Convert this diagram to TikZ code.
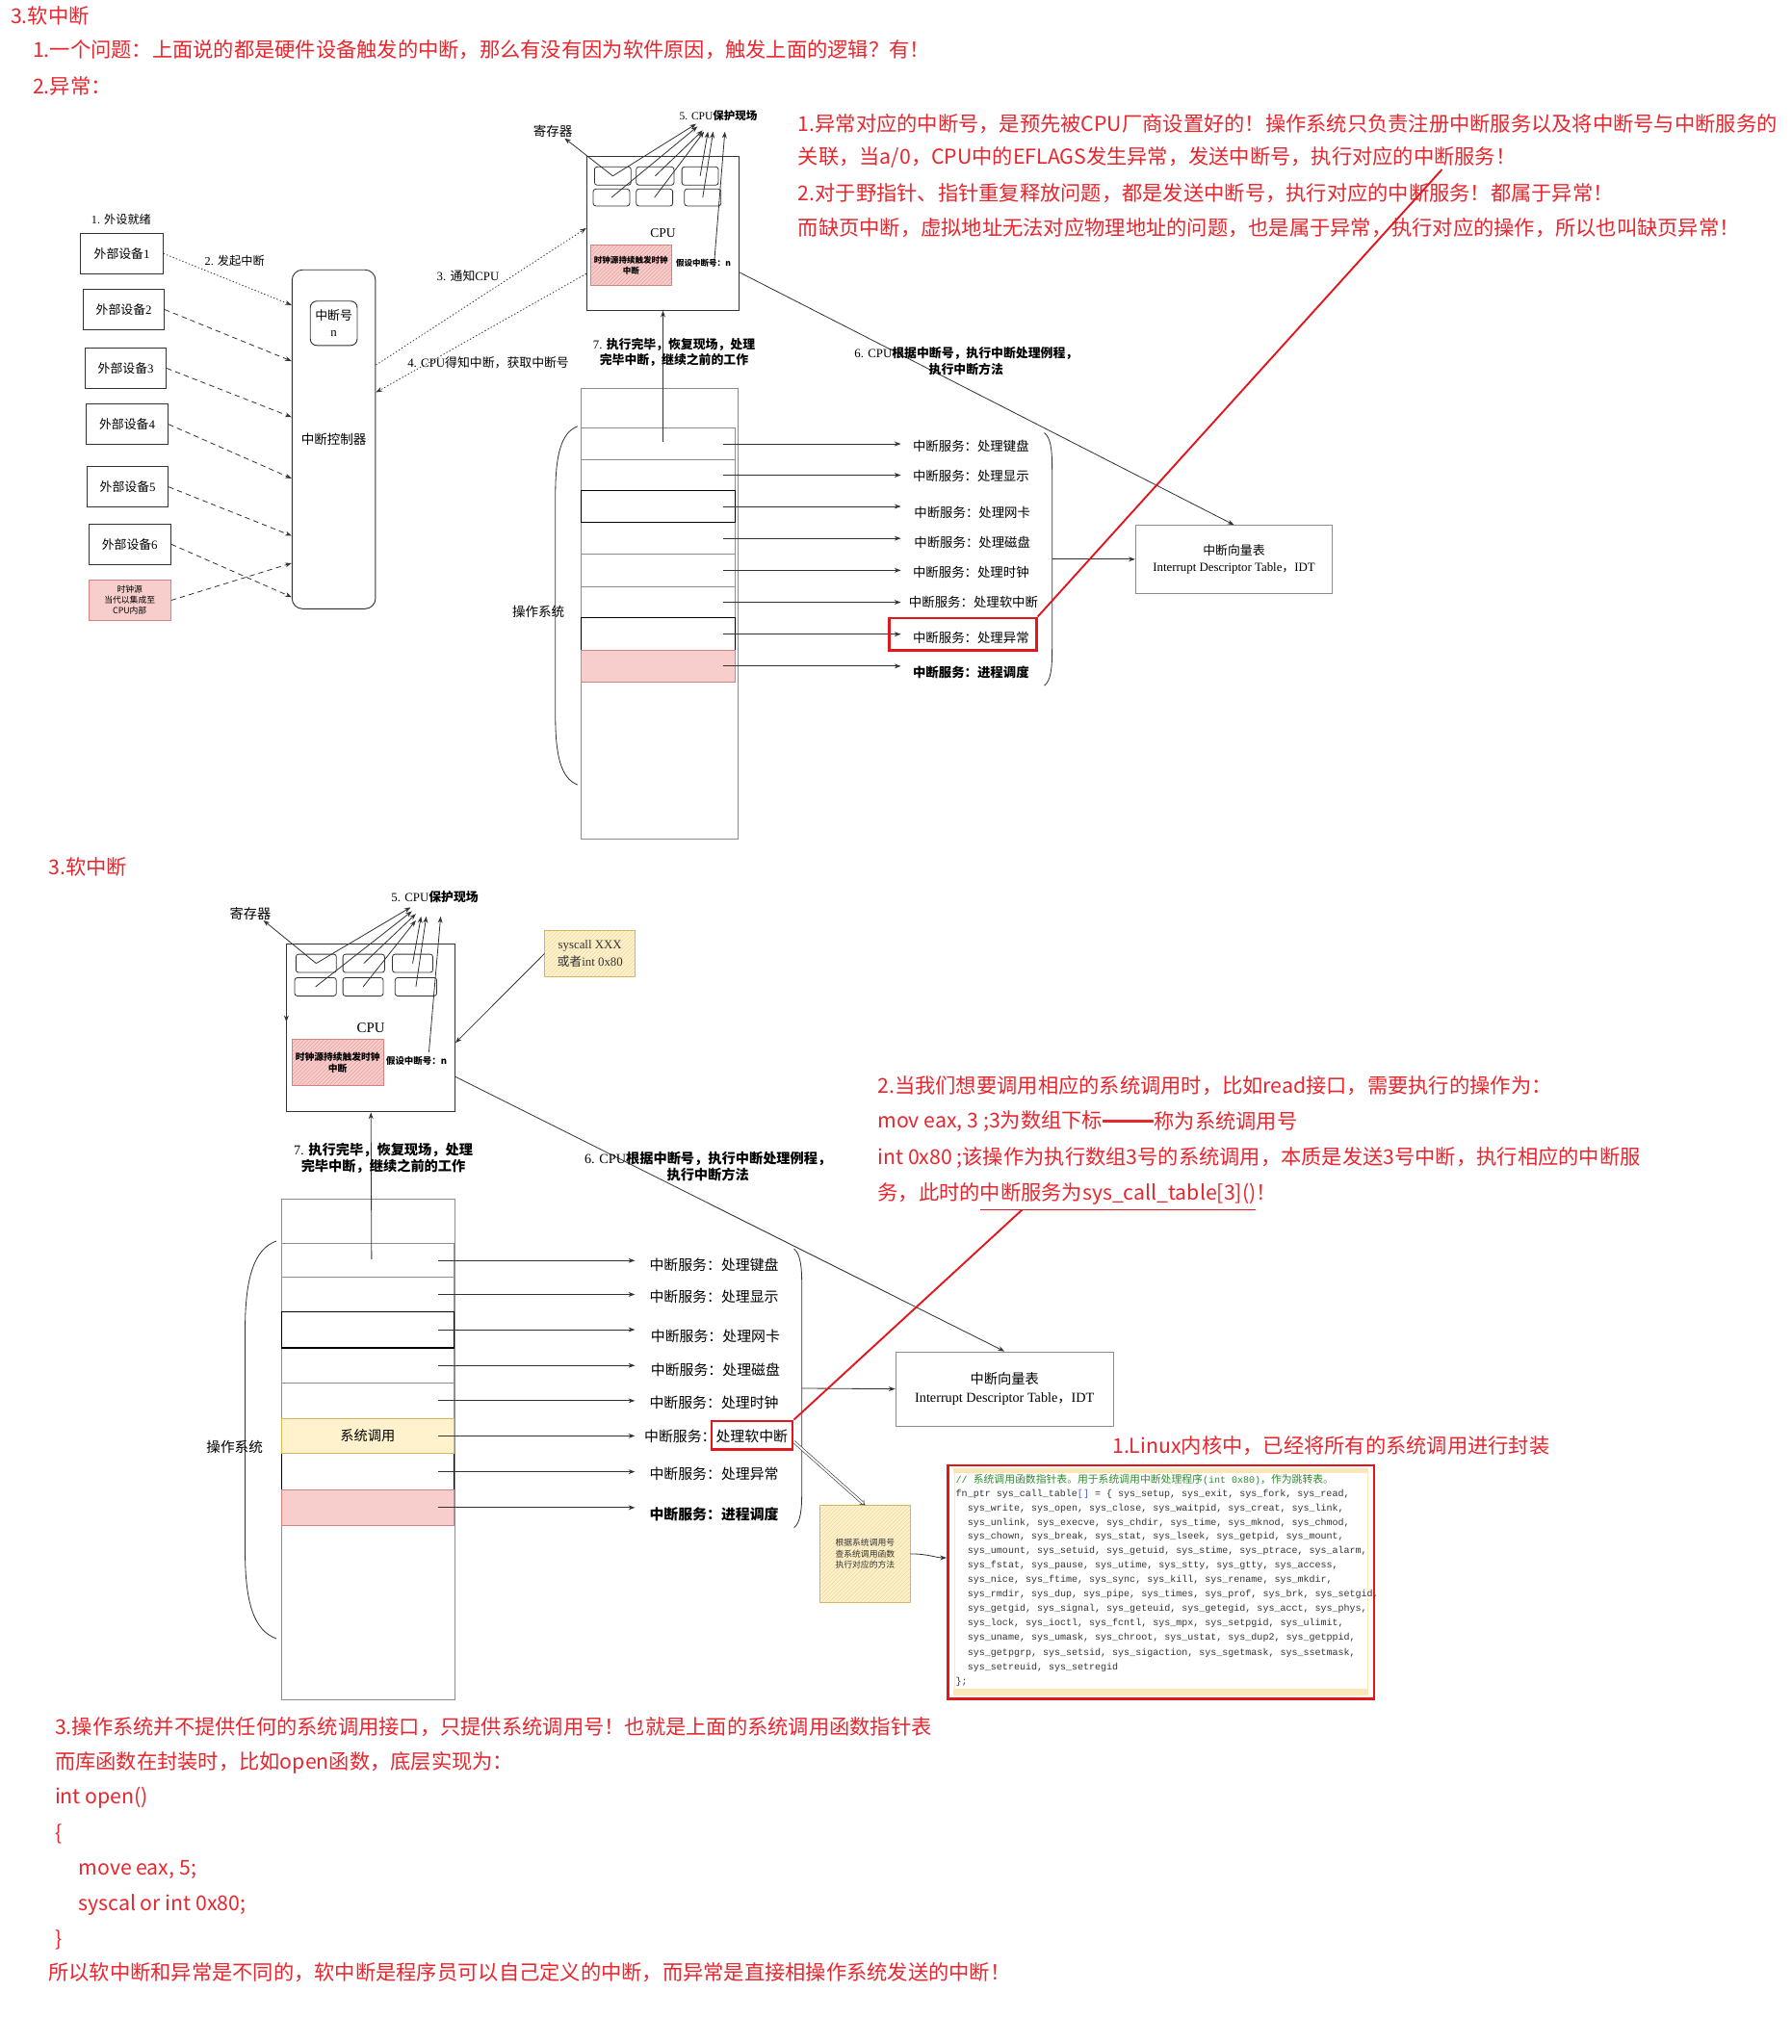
\documentclass[tikz,border=0pt]{standalone}
\usepackage{fontspec}
\setmainfont{Noto Sans CJK SC}
\newfontfamily\lser{Liberation Serif}
\newfontfamily\lmono{Liberation Mono}
\usetikzlibrary{arrows.meta,patterns}
\definecolor{rtext}{HTML}{E8262E}
\definecolor{rbox}{HTML}{E3161E}
\definecolor{lc}{HTML}{333333}
\definecolor{gline}{HTML}{8C8C8C}
\definecolor{pinkfill}{HTML}{F8CECC}
\definecolor{pinkline}{HTML}{D88080}
\definecolor{pinkhatch}{HTML}{E8A0A0}
\definecolor{yfill}{HTML}{FFF2CC}
\definecolor{yline}{HTML}{D6B656}
\definecolor{yhatch}{HTML}{EDD9A0}
\definecolor{cgreen}{HTML}{2E8B2E}
\definecolor{cblue}{HTML}{4060E0}
\definecolor{ctext}{HTML}{333333}
\definecolor{cbeige}{HTML}{FBE6B8}
\newcommand\fsz[2]{\fontsize{#1}{#2}\selectfont}
\tikzset{
  box/.style={draw=lc, line width=0.7pt, inner sep=0pt, align=center, text=black},
  gbox/.style={draw=gline, line width=0.7pt, inner sep=0pt, align=center, text=black},
  reg/.style={draw=lc, line width=0.6pt, rounded corners=2pt, inner sep=0pt},
  lbl/.style={inner sep=0pt, align=center},
  wl/.style={inner sep=0pt, anchor=west},
  rt/.style={wl, text=rtext, font=\fsz{15.7}{18}},
  arr/.style={draw=lc, line width=0.6pt, -{Stealth[length=5pt,width=3.6pt]}},
  dsh/.style={dash pattern=on 4pt off 3pt},
  dt/.style={dash pattern=on 1pt off 1.6pt},
  pinkbox/.style={draw=pinkline, line width=0.7pt, preaction={fill=pinkfill}, pattern=north east lines, pattern color=pinkhatch, inner sep=0pt, align=center},
  ybox/.style={draw=yline, line width=0.7pt, preaction={fill=yfill}, pattern=north east lines, pattern color=yhatch, inner sep=0pt, align=center},
  rowg/.style={draw=gline, line width=0.7pt, inner sep=0pt},
  rowk/.style={draw=black, line width=0.8pt, inner sep=0pt},
  redbox/.style={draw=rbox, line width=1.8pt, inner sep=0pt},
  redln/.style={draw=rbox, line width=1.4pt},
  brc/.style={draw=lc, line width=0.6pt},
  dbl/.style={draw=lc, double=white, double distance=1.4pt, line width=0.45pt, -{Implies}},
  code/.style={wl, text=ctext, font=\lmono\fsz{7.4}{11}},
}
\begin{document}
\begin{tikzpicture}[x=1pt,y=-1pt]
\fill[white] (0,0) rectangle (1374,1568);
\path[use as bounding box] (0,0) rectangle (1374,1568);

% ---------------- top texts ----------------
\node[rt] (t0) at (8,12) {3.软中断};
\node[rt] (t1) at (25,38) {1.一个问题：上面说的都是硬件设备触发的中断，那么有没有因为软件原因，触发上面的逻辑？有！};
\node[rt] (t2) at (25,66) {2.异常：};

% ---------------- diagram 1 ----------------
\node[lbl, font=\fsz{9}{11}] (l1) at (93,168) {{\lser 1. }外设就绪};
\node[box, minimum width=63, minimum height=31, font=\fsz{9.5}{11}] (dev1) at (93.5,194.5) {外部设备{\lser 1}};
\node[box, minimum width=62, minimum height=31, font=\fsz{9.5}{11}] (dev2) at (95,237.5) {外部设备{\lser 2}};
\node[box, minimum width=62, minimum height=31, font=\fsz{9.5}{11}] (dev3) at (96.5,282.5) {外部设备{\lser 3}};
\node[box, minimum width=63, minimum height=31, font=\fsz{9.5}{11}] (dev4) at (97.5,325.5) {外部设备{\lser 4}};
\node[box, minimum width=62, minimum height=31, font=\fsz{9.5}{11}] (dev5) at (98,373.5) {外部设备{\lser 5}};
\node[box, minimum width=63, minimum height=31, font=\fsz{9.5}{11}] (dev6) at (99.5,417.5) {外部设备{\lser 6}};
\node[box, draw=pinkline, fill=pinkfill, minimum width=63, minimum height=31, font=\fsz{6.5}{8}] (clk) at (99.5,460.5) {时钟源\\当代以集成至\\CPU内部};

\node[box, rounded corners=8pt, minimum width=64, minimum height=260, font=\fsz{10}{12}] (ctrl) at (256,337) {中断控制器};
\node[box, rounded corners=5pt, minimum width=36, minimum height=34, font=\fsz{9.5}{13}] (intno) at (256,248) {中断号\\{\lser n}};
\node[lbl, font=\fsz{9}{11}] (l2) at (180,200) {{\lser 2. }发起中断};

\draw[arr, dt]  (dev1.east) -- (ctrl.west |- 0,234);
\draw[arr, dsh] (dev2.east) -- (ctrl.west |- 0,277);
\draw[arr, dsh] (dev3.east) -- (ctrl.west |- 0,320);
\draw[arr, dsh] (dev4.east) -- (ctrl.west |- 0,367);
\draw[arr, dsh] (dev5.east) -- (ctrl.west |- 0,411);
\draw[arr, dsh] (dev6.east) -- (ctrl.west |- 0,458);
\draw[arr, dsh] (clk.east) -- (ctrl.west |- 0,432);

\node[box, minimum width=117, minimum height=118, font=\lser\fsz{10}{12}] (cpu1) at (508.5,179) {CPU};
\node[reg, minimum width=28, minimum height=14] (r11) at (470,135) {};
\node[reg, minimum width=29, minimum height=14] (r12) at (502.5,135) {};
\node[reg, minimum width=28, minimum height=14] (r13) at (537,135) {};
\node[reg, minimum width=28, minimum height=13] (r21) at (469,151.5) {};
\node[reg, minimum width=28, minimum height=13] (r22) at (502,151.5) {};
\node[reg, minimum width=28, minimum height=13] (r23) at (539,151.5) {};
\node[pinkbox, minimum width=62, minimum height=31, font=\bfseries\fsz{6.3}{8}] (pk1) at (484,203.5) {时钟源持续触发时钟\\中断};
\node[lbl, font=\bfseries\fsz{6.3}{8}] (as1) at (539.5,202) {假设中断号：n};
\node[lbl, font=\fsz{10}{12}] (rg1) at (424,101) {寄存器};
\node[lbl, font=\bfseries\fsz{8.5}{10}] (p51) at (551,89) {{\lser\mdseries 5. CPU}保护现场};

\coordinate (k0) at (433,106);
\coordinate (k1) at (534,95);
\coordinate (k2) at (535,97);
\coordinate (k3) at (539,100);
\coordinate (k4) at (540,101);
\coordinate (k5) at (543,101);
\coordinate (k6) at (547,101);
\coordinate (k7) at (556,101);
\coordinate (as1t) at (548,199);
\draw[arr] (r11.center) -- (k0);
\draw[arr] (r11.center) -- (k1);
\draw[arr] (r21.center) -- (k2);
\draw[arr] (r12.center) -- (k3);
\draw[arr] (r22.center) -- (k4);
\draw[arr] (r13.center) -- (k5);
\draw[arr] (r23.center) -- (k6);
\draw[arr] (as1t) -- (k7);

\draw[arr, dt] (ctrl.east |- 0,280) -- (cpu1.west |- 0,175);
\node[lbl, font=\fsz{9.5}{11}] (l3) at (359,212) {{\lser 3. }通知{\lser CPU}};
\draw[arr, dt] (cpu1.west |- 0,210) -- (ctrl.east |- 0,301);
\node[lbl, font=\fsz{9.5}{11}] (l4) at (374.5,278) {{\lser 4. CPU}得知中断，获取中断号};

% stack 1
\node[gbox, minimum width=120, minimum height=346] (stk1) at (506,471) {};
\node[rowg, minimum width=118, minimum height=25] (a1) at (505,340.5) {};
\node[rowg, minimum width=118, minimum height=23] (a2) at (505,364.5) {};
\node[rowg, minimum width=118, minimum height=24] (a4) at (505,413) {};
\node[rowg, minimum width=118, minimum height=25] (a5) at (505,437.5) {};
\node[rowg, minimum width=118, minimum height=24] (a6) at (505,462) {};
\node[rowk, minimum width=118, minimum height=25] (a3) at (505,388.5) {};
\node[rowk, minimum width=118, minimum height=25] (a7) at (505,486.5) {};
\node[rowg, draw=pinkline, fill=pinkfill, minimum width=118, minimum height=24] (a8) at (505,511) {};

\node[wl, font=\fsz{9.9}{12}] (s1) at (700,342) {中断服务：处理键盘};
\node[wl, font=\fsz{9.9}{12}] (s2) at (700,365) {中断服务：处理显示};
\node[wl, font=\fsz{9.9}{12}] (s3) at (701,393) {中断服务：处理网卡};
\node[wl, font=\fsz{9.9}{12}] (s4) at (701,416) {中断服务：处理磁盘};
\node[wl, font=\fsz{9.9}{12}] (s5) at (700,439) {中断服务：处理时钟};
\node[wl, font=\fsz{9.9}{12}] (s6) at (697,462) {中断服务：处理软中断};
\node[wl, font=\fsz{9.9}{12}] (s7) at (700,489) {中断服务：处理异常};
\node[wl, font=\bfseries\fsz{9.9}{12}] (s8) at (700,516) {中断服务：进程调度};
\foreach \r in {a1,a2,a3,a4,a5,a6,a7,a8}
  \draw[arr] ([xshift=-10pt]\r.east) -- (\r.east -| 691,0);

\node[redbox, minimum width=113, minimum height=25] (rb1) at (738.5,486.5) {};

% braces
\draw[brc] (801,332) .. controls (806,336) and (807,345) .. (807,360) -- (807,498) .. controls (807,513) and (806,522) .. (801,526);
\draw[brc] (443,327) .. controls (430,332) and (426,350) .. (426,380) -- (426,549) .. controls (426,579) and (430,597) .. (443,602);
\node[lbl, font=\fsz{10}{12}] (os1) at (413,469) {操作系统};

\node[gbox, minimum width=151, minimum height=52, font=\fsz{9.5}{13}] (idt1) at (946.5,429) {中断向量表\\{\lser Interrupt Descriptor Table}，{\lser IDT}};
\coordinate (b1m) at (807,429);
\draw[arr] (b1m) -- (idt1.west);

\coordinate (s7a) at (508.5,339);
\draw[arr] (s7a) -- (cpu1.south);
\node[lbl, font=\bfseries\fsz{9.5}{12}] (l7) at (517,270) {{\lser\mdseries 7. }执行完毕，恢复现场，处理\\完毕中断，继续之前的工作};
\draw[arr] (cpu1.east |- 0,209) -- (idt1.north);
\node[lbl, font=\bfseries\fsz{9.5}{12}] (l6) at (741,277) {{\lser\mdseries 6. CPU}根据中断号，执行中断处理例程，\\执行中断方法};

\node[rt] (e1) at (612,95) {1.异常对应的中断号，是预先被CPU厂商设置好的！操作系统只负责注册中断服务以及将中断号与中断服务的};
\node[rt] (e2) at (612,121) {关联，当a/0，CPU中的EFLAGS发生异常，发送中断号，执行对应的中断服务！};
\node[rt] (e3) at (612,148) {2.对于野指针、指针重复释放问题，都是发送中断号，执行对应的中断服务！都属于异常！};
\node[rt] (e4) at (612,175) {而缺页中断，虚拟地址无法对应物理地址的问题，也是属于异常，执行对应的操作，所以也叫缺页异常！};
\coordinate (rl1) at (1106,130);
\draw[redln] (rb1.north east) -- (rl1);

% ---------------- diagram 2 ----------------
\node[rt] (t3) at (37,665) {3.软中断};

\node[box, minimum width=129, minimum height=129, font=\lser\fsz{11}{13}] (cpu2) at (284.5,788.5) {CPU};
\node[reg, minimum width=31, minimum height=14] (q11) at (242.5,739) {};
\node[reg, minimum width=32, minimum height=14] (q12) at (279,739) {};
\node[reg, minimum width=31, minimum height=14] (q13) at (316.5,739) {};
\node[reg, minimum width=32, minimum height=14] (q21) at (242,757) {};
\node[reg, minimum width=31, minimum height=14] (q22) at (278.5,757) {};
\node[reg, minimum width=32, minimum height=14] (q23) at (319,757) {};
\node[pinkbox, minimum width=70, minimum height=36, font=\bfseries\fsz{7.2}{9}] (pk2) at (259,815) {时钟源持续触发时钟\\中断};
\node[lbl, font=\bfseries\fsz{7}{9}] (as2) at (319.5,814) {假设中断号：n};
\node[lbl, font=\fsz{10.5}{12}] (rg2) at (192,701) {寄存器};
\node[lbl, font=\bfseries\fsz{9.5}{11}] (p52) at (333.5,688) {{\lser\mdseries 5. CPU}保护现场};

\coordinate (m0) at (202,706);
\coordinate (m1) at (315,696);
\coordinate (m2) at (316,699);
\coordinate (m3) at (319,701);
\coordinate (m4) at (319,706);
\coordinate (m5) at (323,703);
\coordinate (m6) at (327,703);
\coordinate (m7) at (338,703);
\coordinate (as2t) at (329,807);
\draw[arr] (q11.center) -- (m0);
\draw[arr] (q11.center) -- (m1);
\draw[arr] (q21.center) -- (m2);
\draw[arr] (q12.center) -- (m3);
\draw[arr] (q22.center) -- (m4);
\draw[arr] (q13.center) -- (m5);
\draw[arr] (q23.center) -- (m6);
\draw[arr] (as2t) -- (m7);
\draw[arr] (cpu2.west |- 0,774) -- (cpu2.west |- 0,784);

\node[ybox, minimum width=69, minimum height=35, font=\fsz{9.5}{13}, text=ctext] (sc) at (452.5,731.5) {{\lser syscall XXX}\\或者{\lser int 0x80}};
\draw[arr] (sc.west) -- (cpu2.east |- 0,800);

% stack 2
\node[gbox, minimum width=133, minimum height=384] (stk2) at (282.5,1112) {};
\node[rowg, minimum width=132, minimum height=26] (b1) at (282,967) {};
\node[rowg, minimum width=132, minimum height=26] (b2) at (282,993) {};
\node[rowg, minimum width=132, minimum height=27] (b4) at (282,1047.5) {};
\node[rowg, minimum width=132, minimum height=27] (b5) at (282,1074.5) {};
\node[rowk, minimum width=132, minimum height=28] (b3) at (282,1020) {};
\node[rowk, minimum width=132, minimum height=28] (b7) at (282,1129) {};
\node[rowg, draw=yline, fill=yfill, minimum width=132, minimum height=27, font=\fsz{10.5}{12}] (b6) at (282,1101.5) {系统调用};
\node[rowg, draw=pinkline, fill=pinkfill, minimum width=132, minimum height=27] (b8) at (282,1156.5) {};

\node[wl, font=\fsz{11}{13}] (u1) at (498,970) {中断服务：处理键盘};
\node[wl, font=\fsz{11}{13}] (u2) at (498,995) {中断服务：处理显示};
\node[wl, font=\fsz{11}{13}] (u3) at (499,1025) {中断服务：处理网卡};
\node[wl, font=\fsz{11}{13}] (u4) at (499,1051) {中断服务：处理磁盘};
\node[wl, font=\fsz{11}{13}] (u5) at (498,1076) {中断服务：处理时钟};
\node[wl, font=\fsz{11}{13}] (u6) at (494,1102) {中断服务：处理软中断};
\node[wl, font=\fsz{11}{13}] (u7) at (498,1131) {中断服务：处理异常};
\node[wl, font=\bfseries\fsz{11}{13}] (u8) at (498,1162) {中断服务：进程调度};
\foreach \r in {b1,b2,b3,b4,b5,b6,b7,b8}
  \draw[arr] ([xshift=-12pt]\r.east) -- (\r.east -| 487,0);

\node[redbox, minimum width=62, minimum height=22] (rb2) at (577,1101) {};

\draw[brc] (609,958) .. controls (614,962) and (615,972) .. (615,985) -- (615,1145) .. controls (615,1158) and (614,1168) .. (609,1172);
\draw[brc] (212,952) .. controls (195,958) and (188,980) .. (188,1020) -- (188,1190) .. controls (188,1230) and (195,1251) .. (212,1257);
\node[lbl, font=\fsz{10.8}{12}] (os2) at (180,1110) {操作系统};

\node[gbox, minimum width=167, minimum height=57, font=\fsz{10.5}{14}] (idt2) at (770.5,1065.5) {中断向量表\\{\lser Interrupt Descriptor Table}，{\lser IDT}};
\coordinate (b2m) at (615,1065);
\draw[arr] (b2m) -- (idt2.west);

\coordinate (s7b) at (285,966);
\draw[arr] (s7b) -- (cpu2.south);
\node[lbl, font=\bfseries\fsz{10.5}{13}] (l7b) at (294,888.5) {{\lser\mdseries 7. }执行完毕，恢复现场，处理\\完毕中断，继续之前的工作};
\draw[arr] (cpu2.east |- 0,826) -- (idt2.north);
\node[lbl, font=\bfseries\fsz{10.5}{12.5}] (l6b) at (543,895) {{\lser\mdseries 6. CPU}根据中断号，执行中断处理例程，\\执行中断方法};

\node[ybox, minimum width=69, minimum height=74, font=\fsz{6.5}{8.5}, text=ctext] (note) at (663.5,1192) {根据系统调用号\\查系统调用函数\\执行对应的方法};
\draw[dbl] ([yshift=-5pt]rb2.east) -- (note.north);

% code box
\node[redbox, line width=2pt, minimum width=327, minimum height=179] (codebox) at (890.5,1213.5) {};
\fill[cbeige] (731,1126.5) rectangle (1049,1130);
\fill[cbeige] (731,1295.5) rectangle (1049,1300.5);
\draw[cbeige, line width=0.8pt] (732,1126.5) -- (732,1300.5);
\draw[cbeige, line width=0.8pt] (1049,1126.5) -- (1049,1300.5);
\draw[arr] (note.east) .. controls (712,1192) and (718,1195) .. (codebox.west |- 0,1195);

\node[code] (cl1) at (733,1135) {{\color{cgreen}// {\rmfamily\fsz{8}{11}系统调用函数指针表。用于系统调用中断处理程序}(int 0x80){\rmfamily\fsz{8}{11}，作为跳转表。}}};
\node[code] (cl2) at (733,1146) {fn\_ptr sys\_call\_table{\color{cblue}[]} = \{ sys\_setup, sys\_exit, sys\_fork, sys\_read,};
\node[code] (cl3) at (742,1157) {sys\_write, sys\_open, sys\_close, sys\_waitpid, sys\_creat, sys\_link,};
\node[code] (cl4) at (742,1168) {sys\_unlink, sys\_execve, sys\_chdir, sys\_time, sys\_mknod, sys\_chmod,};
\node[code] (cl5) at (742,1179) {sys\_chown, sys\_break, sys\_stat, sys\_lseek, sys\_getpid, sys\_mount,};
\node[code] (cl6) at (742,1190) {sys\_umount, sys\_setuid, sys\_getuid, sys\_stime, sys\_ptrace, sys\_alarm,};
\node[code] (cl7) at (742,1201) {sys\_fstat, sys\_pause, sys\_utime, sys\_stty, sys\_gtty, sys\_access,};
\node[code] (cl8) at (742,1212) {sys\_nice, sys\_ftime, sys\_sync, sys\_kill, sys\_rename, sys\_mkdir,};
\node[code] (cl9) at (742,1223) {sys\_rmdir, sys\_dup, sys\_pipe, sys\_times, sys\_prof, sys\_brk, sys\_setgid,};
\node[code] (cl10) at (742,1234) {sys\_getgid, sys\_signal, sys\_geteuid, sys\_getegid, sys\_acct, sys\_phys,};
\node[code] (cl11) at (742,1245) {sys\_lock, sys\_ioctl, sys\_fcntl, sys\_mpx, sys\_setpgid, sys\_ulimit,};
\node[code] (cl12) at (742,1256) {sys\_uname, sys\_umask, sys\_chroot, sys\_ustat, sys\_dup2, sys\_getppid,};
\node[code] (cl13) at (742,1268) {sys\_getpgrp, sys\_setsid, sys\_sigaction, sys\_sgetmask, sys\_ssetmask,};
\node[code] (cl14) at (742,1279) {sys\_setreuid, sys\_setregid};
\node[code] (cl15) at (733,1290) {\};};

\node[rt] (lx) at (853,1109) {1.Linux内核中，已经将所有的系统调用进行封装};

\node[rt] (f1) at (673,833) {2.当我们想要调用相应的系统调用时，比如read接口，需要执行的操作为：};
\node[rt] (f2) at (673,860) {mov eax, 3 ;3为数组下标};
\node[rt] (f2b) at (885,860) {称为系统调用号};
\draw[draw=rtext, line width=2.4pt] (f2.east) -- (f2b.west);
\node[rt] (f3) at (673,888) {int 0x80 ;该操作为执行数组3号的系统调用，本质是发送3号中断，执行相应的中断服};
\node[rt] (f4) at (673,916) {务，此时的中断服务为sys\_call\_table[3]()！};
\coordinate (ul1) at (752,928);
\coordinate (ul2) at (963,928);
\coordinate (ulm) at (784,928);
\draw[redln] (ul1) -- (ul2);
\draw[redln] (ulm) -- (rb2.north east);

% ---------------- bottom texts ----------------
\node[rt] (g1) at (42,1325) {3.操作系统并不提供任何的系统调用接口，只提供系统调用号！也就是上面的系统调用函数指针表};
\node[rt] (g2) at (42,1352) {而库函数在封装时，比如open函数，底层实现为：};
\node[rt] (g3) at (42,1379) {int open()};
\node[rt] (g4) at (42,1407) {\{};
\node[rt] (g5) at (60,1434) {move eax, 5;};
\node[rt] (g6) at (60,1461) {syscal or int 0x80;};
\node[rt] (g7) at (42,1488) {\}};
\node[rt] (g8) at (37,1513) {所以软中断和异常是不同的，软中断是程序员可以自己定义的中断，而异常是直接相操作系统发送的中断！};
\end{tikzpicture}
\end{document}
